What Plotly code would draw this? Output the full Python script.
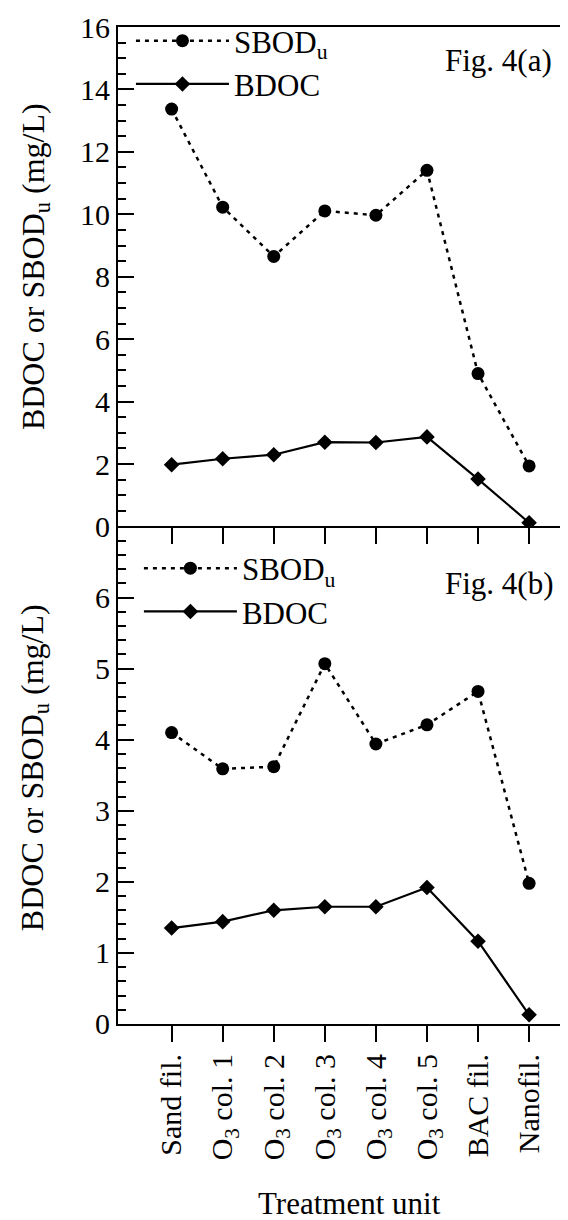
import plotly.graph_objects as go

units = ["Sand fil.", "O<sub>3</sub> col. 1", "O<sub>3</sub> col. 2", "O<sub>3</sub> col. 3",
         "O<sub>3</sub> col. 4", "O<sub>3</sub> col. 5", "BAC fil.", "Nanofil."]

# Fig. 4(a)
sbod_a = [13.37, 10.23, 8.65, 10.11, 9.97, 11.41, 4.90, 1.94]
bdoc_a = [1.98, 2.17, 2.30, 2.70, 2.69, 2.87, 1.52, 0.12]

# Fig. 4(b)
sbod_b = [4.10, 3.59, 3.62, 5.07, 3.94, 4.21, 4.68, 1.98]
bdoc_b = [1.35, 1.44, 1.60, 1.65, 1.65, 1.92, 1.165, 0.13]

FONT = "Liberation Serif"
FS = 30
W, H = 568, 1220
L, R, T, B = 110, 2, 18, 204
PW = W - L - R
PH = H - T - B
split = 498 / PH

fig = go.Figure()

sb_name = "SBOD<sub>u</sub>"
bd_name = "BDOC"

line_s = dict(color="black", width=2.5, dash="4px,5px")
line_b = dict(color="black", width=2.2)
mk_s = dict(symbol="circle", size=13, color="black")
mk_b = dict(symbol="diamond", size=12, color="black")

# top panel (a)
fig.add_trace(go.Scatter(x=units, y=sbod_a, mode="lines+markers", name=sb_name,
                         line=line_s, marker=mk_s, xaxis="x2", yaxis="y2", legend="legend"))
fig.add_trace(go.Scatter(x=units, y=bdoc_a, mode="lines+markers", name=bd_name,
                         line=line_b, marker=mk_b, xaxis="x2", yaxis="y2", legend="legend"))
# bottom panel (b)
fig.add_trace(go.Scatter(x=units, y=sbod_b, mode="lines+markers", name=sb_name,
                         line=line_s, marker=mk_s, xaxis="x", yaxis="y", legend="legend2"))
fig.add_trace(go.Scatter(x=units, y=bdoc_b, mode="lines+markers", name=bd_name,
                         line=line_b, marker=mk_b, xaxis="x", yaxis="y", legend="legend2"))

xr = [-1.05, 7.84]
axfont = dict(family=FONT, size=FS, color="black")
bigfont = dict(family=FONT, size=32, color="black")
legfont = dict(family=FONT, size=31, color="black")

fig.update_layout(
    width=W, height=H,
    margin=dict(l=L, r=R, t=T, b=B),
    paper_bgcolor="white", plot_bgcolor="white",
    font=dict(family=FONT, size=FS, color="black"),
    showlegend=True,
    xaxis=dict(type="category", range=xr, domain=[0, 1], anchor="y",
               showline=True, linecolor="black", linewidth=2,
               ticks="outside", ticklen=16, tickwidth=2, tickcolor="black",
               tickangle=-90, tickfont=axfont, showgrid=False, zeroline=False),
    yaxis=dict(range=[0, 7], domain=[0, split], anchor="x",
               tickvals=[0, 1, 2, 3, 4, 5, 6], showline=True, linecolor="black", linewidth=2,
               ticks="inside", ticklen=16, tickwidth=2, tickcolor="black",
               minor=dict(dtick=0.2, ticks="inside", ticklen=8, tickwidth=1.5, tickcolor="black"),
               tickfont=axfont, showgrid=False, zeroline=False),
    xaxis2=dict(type="category", range=xr, domain=[0, 1], anchor="y2",
                showline=True, linecolor="black", linewidth=2, mirror=True,
                ticks="outside", ticklen=16, tickwidth=2, tickcolor="black",
                showticklabels=False, showgrid=False, zeroline=False),
    yaxis2=dict(range=[0, 16], domain=[split, 1], anchor="x2",
                tickvals=[0, 2, 4, 6, 8, 10, 12, 14, 16], showline=True, linecolor="black",
                linewidth=2, mirror=True,
                ticks="inside", ticklen=16, tickwidth=2, tickcolor="black",
                minor=dict(dtick=0.5, ticks="inside", ticklen=8, tickwidth=1.5, tickcolor="black"),
                tickfont=axfont, showgrid=False, zeroline=False),
    legend=dict(x=(123 - L) / PW, y=(H - B - 5) / PH, xanchor="left", yanchor="top",
                bgcolor="rgba(0,0,0,0)", font=legfont, itemwidth=93,
                tracegroupgap=0),
    legend2=dict(x=(131 - L) / PW, y=(H - B - 533) / PH, xanchor="left", yanchor="top",
                 bgcolor="rgba(0,0,0,0)", font=legfont, itemwidth=93,
                 tracegroupgap=0),
)

ytitle = "BDOC or SBOD<sub>u</sub> (mg/L)"
fig.add_annotation(text=ytitle, textangle=-90, xref="paper", yref="y2 domain",
                   x=(27 - L) / PW, y=0.52, xanchor="center", yanchor="middle",
                   showarrow=False, font=bigfont)
fig.add_annotation(text=ytitle, textangle=-90, xref="paper", yref="y domain",
                   x=(26 - L) / PW, y=0.515, xanchor="center", yanchor="middle",
                   showarrow=False, font=bigfont)
fig.add_annotation(text="Fig. 4(a)", xref="paper", yref="paper",
                   x=(548 - L) / PW, y=(H - B - 52) / PH, xanchor="right", yanchor="middle",
                   showarrow=False, font=legfont)
fig.add_annotation(text="Fig. 4(b)", xref="paper", yref="paper",
                   x=(550 - L) / PW, y=(H - B - 575) / PH, xanchor="right", yanchor="middle",
                   showarrow=False, font=legfont)
fig.add_annotation(text="Treatment unit", xref="paper", yref="paper",
                   x=(343 - L) / PW, y=(H - B - 1196) / PH, xanchor="center", yanchor="middle",
                   showarrow=False, font=legfont)

fig.write_html("out.html")
